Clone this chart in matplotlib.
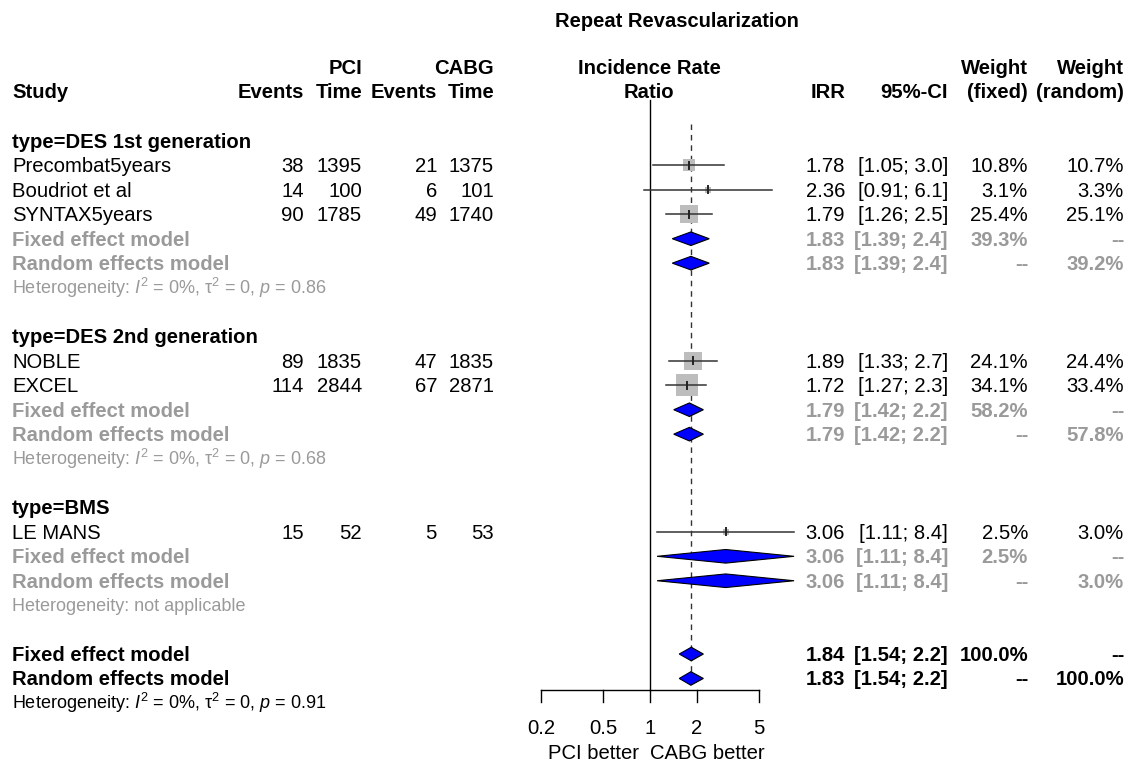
import numpy as np
import matplotlib
matplotlib.use("Agg")
import matplotlib.pyplot as plt
from matplotlib.patches import Polygon

plt.rcParams['font.family'] = ['Liberation Sans', 'DejaVu Sans']
plt.rcParams['mathtext.fontset'] = 'custom'
plt.rcParams['mathtext.rm'] = 'Liberation Sans'
plt.rcParams['mathtext.it'] = 'Liberation Sans:italic'
plt.rcParams['mathtext.bf'] = 'Liberation Sans:bold'

# studies
studies = ["Precombat5years", "Boudriot et al", "SYNTAX5years", "NOBLE", "EXCEL", "LE MANS"]
study_group = [0, 0, 0, 1, 1, 2]
pci_events = [38, 14, 90, 89, 114, 15]
pci_time = [1395, 100, 1785, 1835, 2844, 52]
cabg_events = [21, 6, 49, 47, 67, 5]
cabg_time = [1375, 101, 1740, 1835, 2871, 53]
irr = [1.78, 2.36, 1.79, 1.89, 1.72, 3.06]
irr_lo = [1.05, 0.91, 1.26, 1.33, 1.27, 1.11]
irr_hi = [3.0, 6.1, 2.5, 2.7, 2.3, 8.4]
w_fixed = [10.8, 3.1, 25.4, 24.1, 34.1, 2.5]
w_random = [10.7, 3.3, 25.1, 24.4, 33.4, 3.0]

# subgroups
groups = ["type=DES 1st generation", "type=DES 2nd generation", "type=BMS"]
fe_est = [1.83, 1.79, 3.06]
fe_lo = [1.39, 1.42, 1.11]
fe_hi = [2.4, 2.2, 8.4]
fe_w = ["39.3%", "58.2%", "2.5%"]
re_est = [1.83, 1.79, 3.06]
re_lo = [1.39, 1.42, 1.11]
re_hi = [2.4, 2.2, 8.4]
re_w = ["39.2%", "57.8%", "3.0%"]
het_text = [r"Heterogeneity: $I^2$ = 0%, $\mathrm{\tau}^2$ = 0, $p$ = 0.86",
            r"Heterogeneity: $I^2$ = 0%, $\mathrm{\tau}^2$ = 0, $p$ = 0.68",
            "Heterogeneity: not applicable"]

# overall
all_fe = (1.84, 1.54, 2.2)
all_re = (1.83, 1.54, 2.2)
all_het = r"Heterogeneity: $I^2$ = 0%, $\mathrm{\tau}^2$ = 0, $p$ = 0.91"

ticks = [0.2, 0.5, 1, 2, 5]
tick_labels = ["0.2", "0.5", "1", "2", "5"]

W, H = 1130, 761
fig = plt.figure(figsize=(W / 100, H / 100), dpi=100)
ax = fig.add_axes([0, 0, 1, 1])
ax.set_xlim(0, W)
ax.set_ylim(H, 0)
ax.axis('off')

# forest panel: log scale, y in pixels
px1, scale = 650, 67.7
fx0, fx1 = 520, 820
fa = fig.add_axes([fx0 / W, 0, (fx1 - fx0) / W, 1])
fa.set_xscale('log')
fa.set_xlim(np.exp((fx0 - px1) / scale), np.exp((fx1 - px1) / scale))
fa.set_ylim(H, 0)
fa.axis('off')

FS = 14.6
FS_SMALL = 13.0
GREY = '#9a9a9a'
BLUE = '#0000ff'


def row_y(i):
    return 141 + i * 24.43


def txt(x, y, s, ha='left', bold=False, color='black', size=FS):
    ax.text(x, y + 7, s, ha=ha, va='baseline', fontsize=size,
            fontweight='bold' if bold else 'normal', color=color)


# column anchors (right edges)
c_ev1, c_t1, c_ev2, c_t2 = 304, 362, 437, 494
c_irr, c_ci, c_wf, c_wr = 845, 948, 1028, 1124


def ci_str(lo, hi):
    return "[%.2f; %.1f]" % (lo, hi)


def diamond(y, est, lo, hi):
    h = 6.8
    fa.add_patch(Polygon([[lo, y], [est, y - h], [hi, y], [est, y + h]],
                         closed=True, facecolor=BLUE, edgecolor='black',
                         lw=0.8, zorder=5))


# header
ax.text(677, 20 + 7, "Repeat Revascularization", ha='center', va='baseline',
        fontsize=14.5, fontweight='bold')
hy1, hy2 = 67, 91
txt(c_t1, hy1, "PCI", ha='right', bold=True)
txt(c_t2, hy1, "CABG", ha='right', bold=True)
txt(649, hy1, "Incidence Rate", ha='center', bold=True)
txt(c_wf, hy1, "Weight", ha='right', bold=True)
txt(c_wr, hy1, "Weight", ha='right', bold=True)
txt(12, hy2, "Study", bold=True)
txt(c_ev1, hy2, "Events", ha='right', bold=True)
txt(c_t1, hy2, "Time", ha='right', bold=True)
txt(c_ev2, hy2, "Events", ha='right', bold=True)
txt(c_t2, hy2, "Time", ha='right', bold=True)
txt(649, hy2, "Ratio", ha='center', bold=True)
txt(c_irr, hy2, "IRR", ha='right', bold=True)
txt(c_ci, hy2, "95%-CI", ha='right', bold=True)
txt(c_wf, hy2, "(fixed)", ha='right', bold=True)
txt(c_wr, hy2, "(random)", ha='right', bold=True)

# reference lines
fa.plot([1, 1], [100, 690], color='black', lw=1.0)
fa.plot([all_re[0], all_re[0]], [124, 684], color='#333333', lw=1.0,
        dashes=(4, 3.5))

row = 0
for g, gname in enumerate(groups):
    txt(12, row_y(row), gname, bold=True)
    row += 1
    for i in range(len(studies)):
        if study_group[i] != g:
            continue
        y = row_y(row)
        txt(12, y, studies[i])
        txt(c_ev1, y, str(pci_events[i]), ha='right')
        txt(c_t1, y, str(pci_time[i]), ha='right')
        txt(c_ev2, y, str(cabg_events[i]), ha='right')
        txt(c_t2, y, str(cabg_time[i]), ha='right')
        txt(c_irr, y, "%.2f" % irr[i], ha='right')
        txt(c_ci, y, ci_str(irr_lo[i], irr_hi[i]), ha='right')
        txt(c_wf, y, "%.1f%%" % w_fixed[i], ha='right')
        txt(c_wr, y, "%.1f%%" % w_random[i], ha='right')
        side = 3.7 * np.sqrt(w_fixed[i])
        fa.plot([irr[i]], [y], marker='s', markersize=side * 0.72,
                color='#bdbdbd', markeredgewidth=0, zorder=3)
        fa.plot([irr_lo[i], irr_hi[i]], [y, y], color='#333333', lw=1.1,
                zorder=4)
        fa.plot([irr[i], irr[i]], [y - 3.5, y + 3.5], color='#222222',
                lw=1.4, zorder=4)
        row += 1
    y = row_y(row)
    txt(12, y, "Fixed effect model", bold=True, color=GREY)
    txt(c_irr, y, "%.2f" % fe_est[g], ha='right', bold=True, color=GREY)
    txt(c_ci, y, ci_str(fe_lo[g], fe_hi[g]), ha='right', bold=True, color=GREY)
    txt(c_wf, y, fe_w[g], ha='right', bold=True, color=GREY)
    txt(c_wr, y, "--", ha='right', bold=True, color=GREY)
    diamond(y, fe_est[g], fe_lo[g], fe_hi[g])
    row += 1
    y = row_y(row)
    txt(12, y, "Random effects model", bold=True, color=GREY)
    txt(c_irr, y, "%.2f" % re_est[g], ha='right', bold=True, color=GREY)
    txt(c_ci, y, ci_str(re_lo[g], re_hi[g]), ha='right', bold=True, color=GREY)
    txt(c_wf, y, "--", ha='right', bold=True, color=GREY)
    txt(c_wr, y, re_w[g], ha='right', bold=True, color=GREY)
    diamond(y, re_est[g], re_lo[g], re_hi[g])
    row += 1
    txt(12, row_y(row) - 1, het_text[g], color=GREY, size=FS_SMALL)
    row += 2

# overall
y = row_y(row)
txt(12, y, "Fixed effect model", bold=True)
txt(c_irr, y, "%.2f" % all_fe[0], ha='right', bold=True)
txt(c_ci, y, ci_str(all_fe[1], all_fe[2]), ha='right', bold=True)
txt(c_wf, y, "100.0%", ha='right', bold=True)
txt(c_wr, y, "--", ha='right', bold=True)
diamond(y, *all_fe)
row += 1
y = row_y(row)
txt(12, y, "Random effects model", bold=True)
txt(c_irr, y, "%.2f" % all_re[0], ha='right', bold=True)
txt(c_ci, y, ci_str(all_re[1], all_re[2]), ha='right', bold=True)
txt(c_wf, y, "--", ha='right', bold=True)
txt(c_wr, y, "100.0%", ha='right', bold=True)
diamond(y, *all_re)
row += 1
txt(12, row_y(row) - 1, all_het, size=FS_SMALL)

# x axis of the forest panel
axis_y = 690
fa.plot([ticks[0], ticks[-1]], [axis_y, axis_y], color='black', lw=1.0)
for t, lab in zip(ticks, tick_labels):
    fa.plot([t, t], [axis_y, axis_y + 12], color='black', lw=1.0)
    fa.text(t, 727 + 7, lab, ha='center', va='baseline', fontsize=FS)
txt(593, 752, "PCI better", ha='center')
txt(707, 752, "CABG better", ha='center')

fig.savefig("out.png", dpi=100)
